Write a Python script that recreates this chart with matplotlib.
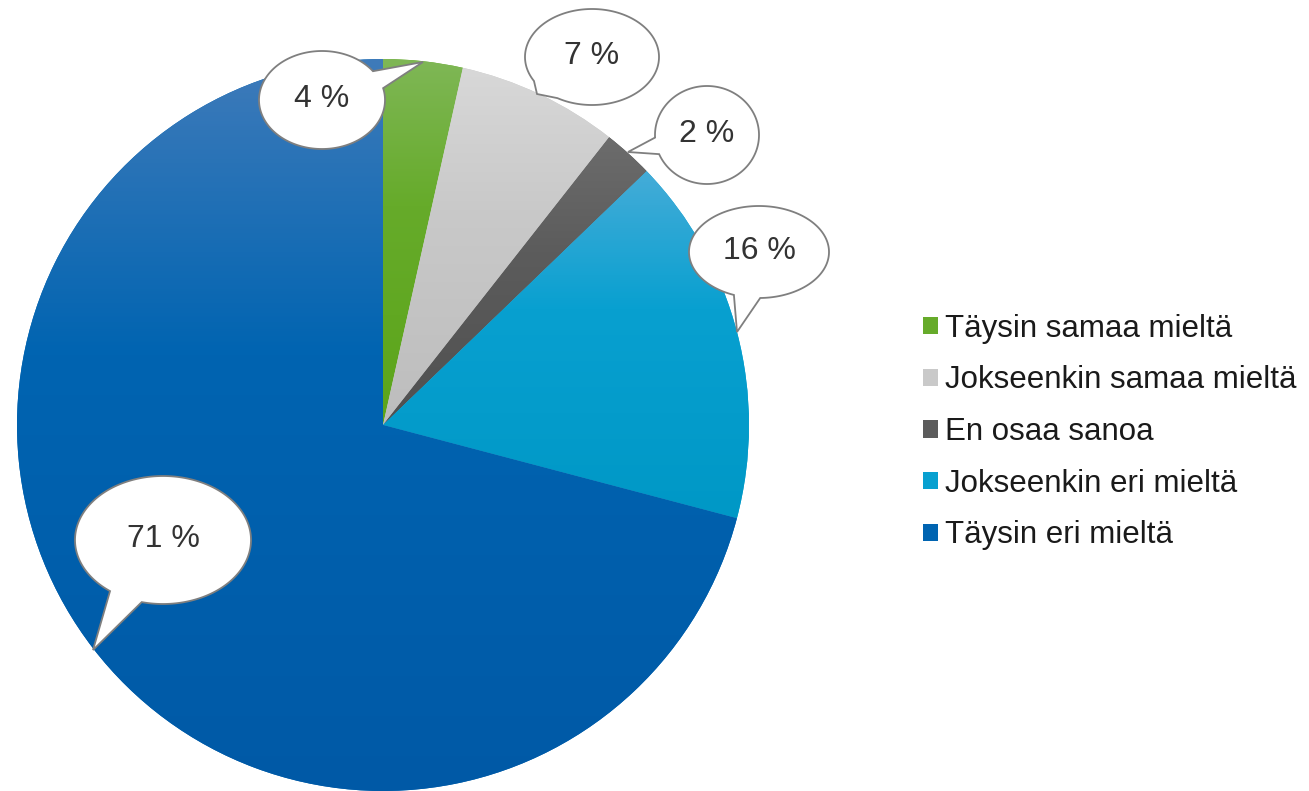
import numpy as np
import matplotlib
matplotlib.use("Agg")
import matplotlib.pyplot as plt
from matplotlib.colors import LinearSegmentedColormap
from matplotlib.patches import Patch, Polygon

plt.rcParams['font.family'] = ['Liberation Sans', 'DejaVu Sans']

categories = ["Täysin samaa mieltä", "Jokseenkin samaa mieltä", "En osaa sanoa",
              "Jokseenkin eri mieltä", "Täysin eri mieltä"]
shares = [3.5, 7.1, 2.2, 16.3, 70.9]
labels = ["4 %", "7 %", "2 %", "16 %", "71 %"]

# top colour, middle colour, bottom colour of each slice gradient
grad_colors = [
    ("#7fb756", "#66ab2a", "#5ca51a"),
    ("#d8d8d8", "#c9c9c9", "#bdbdbd"),
    ("#6c6c6c", "#5c5c5c", "#505050"),
    ("#45acd8", "#08a0d0", "#0098c6"),
    ("#3f7bba", "#0064b1", "#0059a6"),
]

W, H = 1309, 791
fig = plt.figure(figsize=(W / 100, H / 100), dpi=100)
ax = fig.add_axes([0, 0, 1, 1])

cx, cy, r = 383, H - 425, 366
wedges, _ = ax.pie(shares, startangle=90, counterclock=False, center=(cx, cy),
                   radius=r, colors=[c[1] for c in grad_colors],
                   wedgeprops=dict(linewidth=0))

grad = np.linspace(0, 1, 256).reshape(-1, 1)
for w, cols in zip(wedges, grad_colors):
    verts = w.get_path().vertices
    y0, y1 = verts[:, 1].min(), verts[:, 1].max()
    x0, x1 = verts[:, 0].min(), verts[:, 0].max()
    cmap = LinearSegmentedColormap.from_list("g", [(0, cols[2]), (0.6, cols[1]), (1, cols[0])])
    im = ax.imshow(grad, cmap=cmap, extent=[x0, x1, y0, y1], origin="lower",
                   aspect="auto", zorder=2, interpolation="bilinear")
    im.set_clip_path(w)

ax.set_xlim(0, W)
ax.set_ylim(0, H)
ax.set_aspect("auto")
ax.axis("off")

# speech bubbles: centre, half axes, tail tip, tail base angles (pixel coords, y down)
bubbles = [
    ((322, 100), (63, 49), (423, 62), (-36, -14)),
    ((592, 57), (67, 48), (537, 94), (121, 150)),
    ((707, 135), (52, 49), (628, 152), (157, 177)),
    ((759, 252), (70, 46), (737, 332), (89, 111)),
    ((163, 540), (88, 64), (93, 650), (104, 127)),
]

for lab, (c, ab, tip, (t1, t2)) in zip(labels, bubbles):
    ts = np.radians(np.linspace(t2, t1 + 360, 300))
    xs = c[0] + ab[0] * np.cos(ts)
    ys = c[1] + ab[1] * np.sin(ts)
    pts = np.column_stack([xs, H - ys])
    pts = np.vstack([pts, [tip[0], H - tip[1]]])
    ax.add_patch(Polygon(pts, closed=True, facecolor="white", edgecolor="#7f7f7f",
                         linewidth=1.3, zorder=5, joinstyle="miter"))
    ax.text(c[0], H - c[1] + 1, lab, ha="center", va="center", fontsize=23,
            color="#333333", zorder=6)

handles = [Patch(facecolor=c[1], edgecolor="none") for c in grad_colors]
fig.legend(handles, categories, loc="upper left", bbox_to_anchor=(907 / W, 1 - 298 / H),
           frameon=False, fontsize=22.5, handlelength=0.48, handleheight=0.48,
           handletextpad=0.25, labelspacing=0.695, labelcolor="#1a1a1a", borderpad=0)

fig.savefig("out.png", dpi=100)
